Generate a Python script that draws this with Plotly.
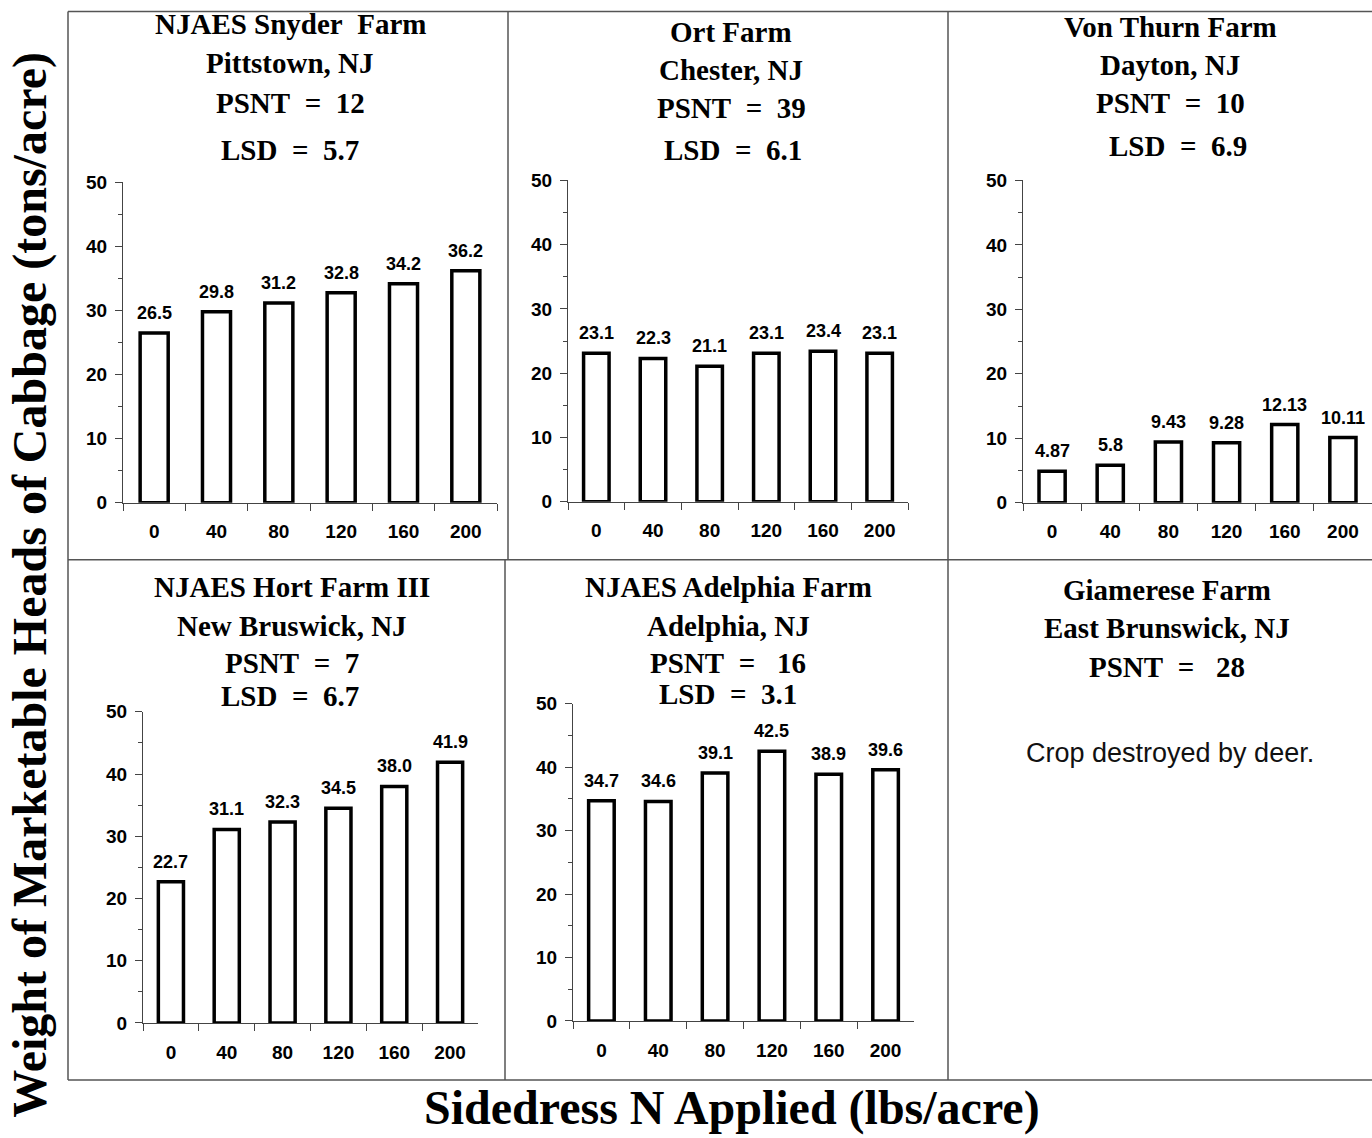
import plotly.graph_objects as go

W, H = 1372, 1138

categories = ["0", "40", "80", "120", "160", "200"]
snyder = [26.5, 29.8, 31.2, 32.8, 34.2, 36.2]
ort = [23.1, 22.3, 21.1, 23.1, 23.4, 23.1]
von_thurn = [4.87, 5.8, 9.43, 9.28, 12.13, 10.11]
hort = [22.7, 31.1, 32.3, 34.5, 38.0, 41.9]
adelphia = [34.7, 34.6, 39.1, 42.5, 38.9, 39.6]

y_title = "Weight of Marketable Heads of Cabbage (tons/acre)"
x_title = "Sidedress N Applied (lbs/acre)"

panel_titles = [
    ["NJAES Snyder&nbsp;&nbsp;Farm", "Pittstown, NJ", "PSNT&nbsp;&nbsp;=&nbsp;&nbsp;12", "LSD&nbsp;&nbsp;=&nbsp;&nbsp;5.7"],
    ["Ort Farm", "Chester, NJ", "PSNT&nbsp;&nbsp;=&nbsp;&nbsp;39", "LSD&nbsp;&nbsp;=&nbsp;&nbsp;6.1"],
    ["Von Thurn Farm", "Dayton, NJ", "PSNT&nbsp;&nbsp;=&nbsp;&nbsp;10", "LSD&nbsp;&nbsp;=&nbsp;&nbsp;6.9"],
    ["NJAES Hort Farm III", "New Bruswick, NJ", "PSNT&nbsp;&nbsp;=&nbsp;&nbsp;7", "LSD&nbsp;&nbsp;=&nbsp;&nbsp;6.7"],
    ["NJAES Adelphia Farm", "Adelphia, NJ", "PSNT&nbsp;&nbsp;=&nbsp;&nbsp;&nbsp;16", "LSD&nbsp;&nbsp;=&nbsp;&nbsp;3.1"],
    ["Giamerese Farm", "East Brunswick, NJ", "PSNT&nbsp;&nbsp;=&nbsp;&nbsp;&nbsp;28"],
]
note = "Crop destroyed by deer."

series = [snyder, ort, von_thurn, hort, adelphia]

# plot areas in page pixels: x_left, x_right, y_zero, y_fifty
areas = [
    (123, 497, 503, 183),
    (568, 908, 502, 181),
    (1023, 1372, 503, 181),
    (143, 478, 1023, 712),
    (573, 914, 1021, 704),
]
title_pos = [
    [(290, 25), (290, 64), (290, 104), (290, 151)],
    [(731, 33), (731, 71), (731, 109), (733, 151)],
    [(1170, 28), (1170, 66), (1170, 104), (1178, 147)],
    [(292, 587), (292, 626), (292, 663), (290, 696)],
    [(728, 587), (728, 626), (728, 663), (728, 694)],
    [(1167, 590), (1167, 628), (1167, 667)],
]

# vertical correction between intended and captured positions
YS, YO = 0.981, 10.6


def px(x):
    return x / W


def py(y):
    yi = (y - YO) / YS
    return 1 - yi / H


fig = go.Figure()
layout = dict(
    width=W, height=H, autosize=False, margin=dict(l=0, r=0, t=0, b=0, pad=0),
    paper_bgcolor="white", plot_bgcolor="white", showlegend=False,
)

SANS = "Liberation Sans, Arial, sans-serif"
SERIF = "Liberation Serif, Times New Roman, serif"
AX = "#444"

annotations = []
for i, (vals, (xl, xr, y0, y50)) in enumerate(zip(series, areas)):
    n = "" if i == 0 else str(i + 1)
    fig.add_trace(go.Bar(
        x=categories, y=vals, xaxis="x" + n, yaxis="y" + n,
        marker=dict(color="white", line=dict(color="black", width=3.5)),
        width=0.45, hoverinfo="x+y",
    ))
    for j, v in enumerate(vals):
        annotations.append(dict(
            text=str(v), x=j, y=v, xref="x" + n, yref="y" + n,
            xanchor="center", yanchor="bottom", yshift=8, showarrow=False,
            font=dict(family=SANS, size=18, color="black", weight="bold"),
        ))
    layout["xaxis" + n] = dict(
        domain=[px(xl), px(xr)], anchor="y" + n, type="category",
        range=[-0.5, 5.5], showline=True, linecolor=AX, linewidth=1,
        ticks="outside", tickson="boundaries", ticklen=7, tickcolor=AX,
        tickfont=dict(family=SANS, size=19, color="black", weight="bold"),
        showgrid=False, zeroline=False, fixedrange=True, ticklabelstandoff=12,
    )
    layout["yaxis" + n] = dict(
        domain=[py(y0), py(y50)], anchor="x" + n, range=[0, 50],
        tickvals=[0, 10, 20, 30, 40, 50], showline=True, linecolor=AX,
        linewidth=1, ticks="outside", ticklen=7, tickcolor=AX,
        minor=dict(dtick=5, ticks="outside", ticklen=4, tickcolor=AX),
        tickfont=dict(family=SANS, size=19, color="black", weight="bold"),
        showgrid=False, zeroline=False, fixedrange=True, ticklabelstandoff=4,
    )

for lines, poss in zip(panel_titles, title_pos):
    for t, (x, y) in zip(lines, poss):
        annotations.append(dict(
            text=t, x=px(x), y=py(y), xref="paper", yref="paper",
            xanchor="center", yanchor="middle", showarrow=False,
            font=dict(family=SERIF, size=29, color="black", weight="bold"),
        ))
annotations.append(dict(
    text=note, x=px(1170), y=py(753), xref="paper", yref="paper",
    xanchor="center", yanchor="middle", showarrow=False,
    font=dict(family=SANS, size=27, color="#111"),
))
annotations.append(dict(
    text=y_title, x=px(30), y=py(585), xref="paper", yref="paper",
    xanchor="center", yanchor="middle", showarrow=False, textangle=-90,
    font=dict(family=SERIF, size=48, color="black", weight="bold"),
))
annotations.append(dict(
    text=x_title, x=px(732), y=py(1108), xref="paper", yref="paper",
    xanchor="center", yanchor="middle", showarrow=False,
    font=dict(family=SERIF, size=48, color="black", weight="bold"),
))
layout["annotations"] = annotations

frame = [
    (68, 12, 1372, 12),
    (68, 12, 68, 1080),
    (68, 1080, 1372, 1080),
    (68, 560, 1372, 560),
    (508, 12, 508, 560),
    (505, 560, 505, 1080),
    (948, 12, 948, 1080),
]
layout["shapes"] = [
    dict(type="line", xref="paper", yref="paper", x0=px(a), y0=py(b), x1=px(c), y1=py(d),
         line=dict(color="#555", width=1.5))
    for a, b, c, d in frame
]

fig.update_layout(**layout)

post = (
    "document.documentElement.style.margin='0';"
    "document.body.style.margin='0';document.body.style.overflow='hidden';"
    "var d=document.getElementById('{plot_id}');"
    "d.style.position='fixed';d.style.top='0px';d.style.left='0px';"
)
fig.write_html("out.html", post_script=post, config={"displayModeBar": False})
